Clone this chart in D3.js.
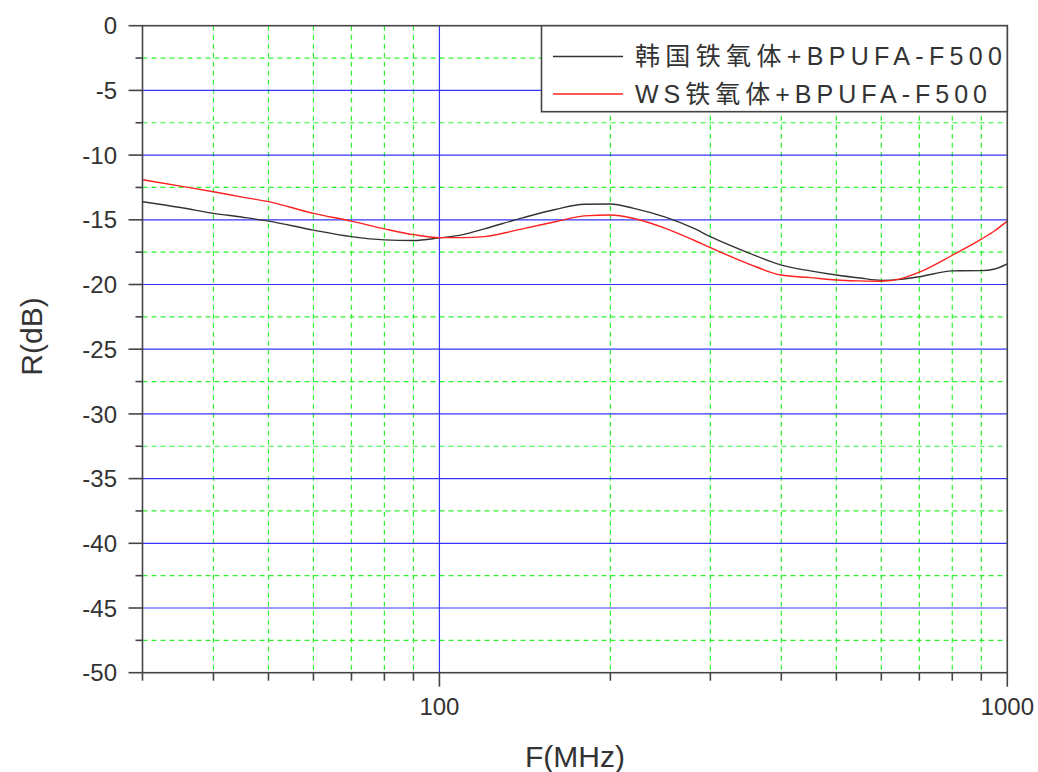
<!DOCTYPE html>
<html>
<head>
<meta charset="utf-8">
<script src="https://cdn.jsdelivr.net/npm/d3@7"></script>
<style>
  html, body { margin: 0; padding: 0; background: #fff; }
  svg { display: block; }
  text { font-family: "Liberation Sans", Arial, "Noto Sans CJK SC", sans-serif; fill: #333; }
</style>
</head>
<body>
<svg id="chart" width="1038" height="772"></svg>
<script>
// ---- data ----
const freqs = [30,35,40,45,50,60,70,80,90,100,110,120,140,160,180,200,220,250,280,300,350,400,450,500,550,600,650,700,800,900,950,1000];
const koreaFerrite = [-13.6,-14.05,-14.5,-14.8,-15.1,-15.8,-16.3,-16.55,-16.6,-16.4,-16.15,-15.7,-14.85,-14.2,-13.8,-13.78,-14.12,-14.8,-15.65,-16.3,-17.55,-18.5,-18.95,-19.27,-19.5,-19.68,-19.6,-19.4,-18.95,-18.93,-18.8,-18.4];
const wsFerrite = [-11.9,-12.4,-12.83,-13.25,-13.6,-14.5,-15.1,-15.7,-16.15,-16.38,-16.38,-16.3,-15.7,-15.15,-14.7,-14.63,-14.9,-15.66,-16.56,-17.15,-18.4,-19.27,-19.47,-19.65,-19.72,-19.75,-19.55,-19.05,-17.74,-16.5,-15.85,-15.1];
const seriesNames = ["韩国铁氧体+BPUFA-F500", "WS铁氧体+BPUFA-F500"];
const yMajorTicks = [0,-5,-10,-15,-20,-25,-30,-35,-40,-45,-50];
const yMinorTicks = [-2.5,-7.5,-12.5,-17.5,-22.5,-27.5,-32.5,-37.5,-42.5,-47.5];
const xMajorTicks = [100, 1000];
const xMinorTicks = [30,40,50,60,70,80,90,200,300,400,500,600,700,800,900];
const xTitle = "F(MHz)";
const yTitle = "R(dB)";

// ---- layout ----
const svg = d3.select("#chart");
const L = 142.5, T = 25.7, R = 1007.3, B = 672.7;
const x = d3.scaleLog().domain([30, 1000]).range([L, R]);
const y = d3.scaleLinear().domain([-50, 0]).range([B, T]);

const blue = "#3535ff", green = "#2cf52c", frame = "#444";

// grid: green dashed minor
const g = svg.append("g");
g.selectAll(".gmy").data(yMinorTicks).enter().append("line")
  .attr("x1", L).attr("x2", R).attr("y1", d => y(d)).attr("y2", d => y(d))
  .attr("stroke", green).attr("stroke-width", 1.2).attr("stroke-dasharray", "5,4");
g.selectAll(".gmx").data(xMinorTicks.filter(d => d > 30)).enter().append("line")
  .attr("y1", T).attr("y2", B).attr("x1", d => x(d)).attr("x2", d => x(d))
  .attr("stroke", green).attr("stroke-width", 1.2).attr("stroke-dasharray", "5,4");
// grid: blue major
g.selectAll(".gMy").data(yMajorTicks.filter(d => d < 0 && d > -50)).enter().append("line")
  .attr("x1", L).attr("x2", R).attr("y1", d => y(d)).attr("y2", d => y(d))
  .attr("stroke", blue).attr("stroke-width", 1.2);
g.selectAll(".gMx").data(xMajorTicks.filter(d => d < 1000)).enter().append("line")
  .attr("y1", T).attr("y2", B).attr("x1", d => x(d)).attr("x2", d => x(d))
  .attr("stroke", blue).attr("stroke-width", 1.2);

// curves
const line = d3.line().x((d, i) => x(freqs[i])).y(d => y(d)).curve(d3.curveMonotoneX);
svg.append("path").datum(koreaFerrite).attr("d", line)
  .attr("fill", "none").attr("stroke", "#333").attr("stroke-width", 1.4);
svg.append("path").datum(wsFerrite).attr("d", line)
  .attr("fill", "none").attr("stroke", "#ff2020").attr("stroke-width", 1.4);

// frame
svg.append("rect").attr("x", L).attr("y", T).attr("width", R - L).attr("height", B - T)
  .attr("fill", "none").attr("stroke", frame).attr("stroke-width", 1.6);

// y axis ticks
const yAxis = svg.append("g");
yAxis.selectAll(".ty").data(yMajorTicks).enter().append("line")
  .attr("x1", L - 14).attr("x2", L).attr("y1", d => y(d)).attr("y2", d => y(d))
  .attr("stroke", frame).attr("stroke-width", 1.6);
yAxis.selectAll(".tym").data(yMinorTicks).enter().append("line")
  .attr("x1", L - 7).attr("x2", L).attr("y1", d => y(d)).attr("y2", d => y(d))
  .attr("stroke", frame).attr("stroke-width", 1.6);
yAxis.selectAll(".ly").data(yMajorTicks).enter().append("text")
  .attr("x", 117).attr("y", d => y(d) + 8.6).attr("text-anchor", "end")
  .attr("font-size", 24).text(d => String(d));

// x axis ticks
const xAxis = svg.append("g");
xAxis.selectAll(".tx").data(xMajorTicks).enter().append("line")
  .attr("y1", B).attr("y2", B + 14).attr("x1", d => x(d)).attr("x2", d => x(d))
  .attr("stroke", frame).attr("stroke-width", 1.6);
xAxis.selectAll(".txm").data(xMinorTicks).enter().append("line")
  .attr("y1", B).attr("y2", B + 8).attr("x1", d => x(d)).attr("x2", d => x(d))
  .attr("stroke", frame).attr("stroke-width", 1.6);
xAxis.selectAll(".lx").data(xMajorTicks).enter().append("text")
  .attr("x", d => x(d)).attr("y", 715).attr("text-anchor", "middle")
  .attr("font-size", 24).text(d => String(d));

// axis titles
svg.append("text").attr("x", 575).attr("y", 766.5).attr("text-anchor", "middle")
  .attr("font-size", 30).text(xTitle);
svg.append("text").attr("transform", "translate(41.5,336.5) rotate(-90)")
  .attr("text-anchor", "middle").attr("font-size", 30).text(yTitle);

// legend
const lg = svg.append("g");
lg.append("rect").attr("x", 541.5).attr("y", T).attr("width", R - 541.5).attr("height", 111.7 - T)
  .attr("fill", "#fff").attr("stroke", frame).attr("stroke-width", 1.6);
const legendColors = ["#333", "#ff2020"];
const legendY = [56.5, 94];
const legendLen = [367, 352];
seriesNames.forEach((name, i) => {
  lg.append("line").attr("x1", 553).attr("x2", 623).attr("y1", legendY[i]).attr("y2", legendY[i])
    .attr("stroke", legendColors[i]).attr("stroke-width", 1.4);
  lg.append("text").attr("x", 635).attr("y", legendY[i] + 8.5)
    .attr("font-size", 25).attr("textLength", legendLen[i]).attr("lengthAdjust", "spacing")
    .text(name);
});
</script>
</body>
</html>
